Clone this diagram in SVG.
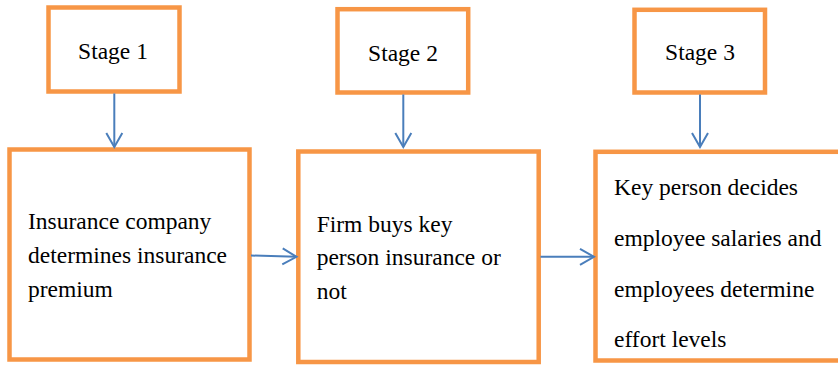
<svg xmlns="http://www.w3.org/2000/svg" width="838" height="367" viewBox="0 0 838 367">
<defs>
<marker id="arr" markerUnits="userSpaceOnUse" markerWidth="20" markerHeight="20" viewBox="-16 -10 20 20" refX="0" refY="0" orient="auto" overflow="visible">
<path d="M-14,-8 L0,0 L-14,8" fill="none" stroke="#4A7EBB" stroke-width="2"/>
</marker>
<style>
.box{fill:#fff;stroke:#F79646;stroke-width:4.5}
.t{font-size:23.5px;fill:#000}
.c{text-anchor:middle}
.ln{stroke:#4A7EBB;stroke-width:2;fill:none;marker-end:url(#arr)}
</style>
</defs>
<rect width="838" height="367" fill="#fff"/>
<g font-family="Liberation Serif, Times New Roman, serif">
<g id="stage1">
<rect class="box" x="48.5" y="7.5" width="131" height="84"/>
<text class="t c" x="113" y="59">Stage 1</text>
</g>
<g id="stage2">
<rect class="box" x="337.5" y="9.2" width="130.7" height="83.3"/>
<text class="t c" x="403" y="61">Stage 2</text>
</g>
<g id="stage3">
<rect class="box" x="634.5" y="9.8" width="130.5" height="82.7"/>
<text class="t c" x="700" y="60">Stage 3</text>
</g>
<g id="box1">
<rect class="box" x="9.5" y="149.5" width="240" height="210"/>
<text class="t" x="28" y="229.3">Insurance company</text>
<text class="t" x="28" y="263.3">determines insurance</text>
<text class="t" x="28" y="296.5">premium</text>
</g>
<g id="box2">
<rect class="box" x="298.3" y="151.5" width="240.4" height="210.5"/>
<text class="t" x="316.7" y="231.7">Firm buys key</text>
<text class="t" x="316.7" y="265">person insurance or</text>
<text class="t" x="316.7" y="299.3">not</text>
</g>
<g id="box3">
<rect class="box" x="595.5" y="151.8" width="250" height="208.7"/>
<text class="t" x="614" y="195">Key person decides</text>
<text class="t" x="614" y="246">employee salaries and</text>
<text class="t" x="614" y="296.7">employees determine</text>
<text class="t" x="614" y="346.7">effort levels</text>
</g>
</g>
<g id="connectors">
<line class="ln" x1="114.3" y1="93.5" x2="114.3" y2="147"/>
<line class="ln" x1="403.3" y1="94.5" x2="403.3" y2="147"/>
<line class="ln" x1="700" y1="94.5" x2="700" y2="147"/>
<line class="ln" x1="251" y1="255.5" x2="296.5" y2="256.8"/>
<line class="ln" x1="540.5" y1="256.8" x2="594" y2="256.8"/>
</g>
</svg>
